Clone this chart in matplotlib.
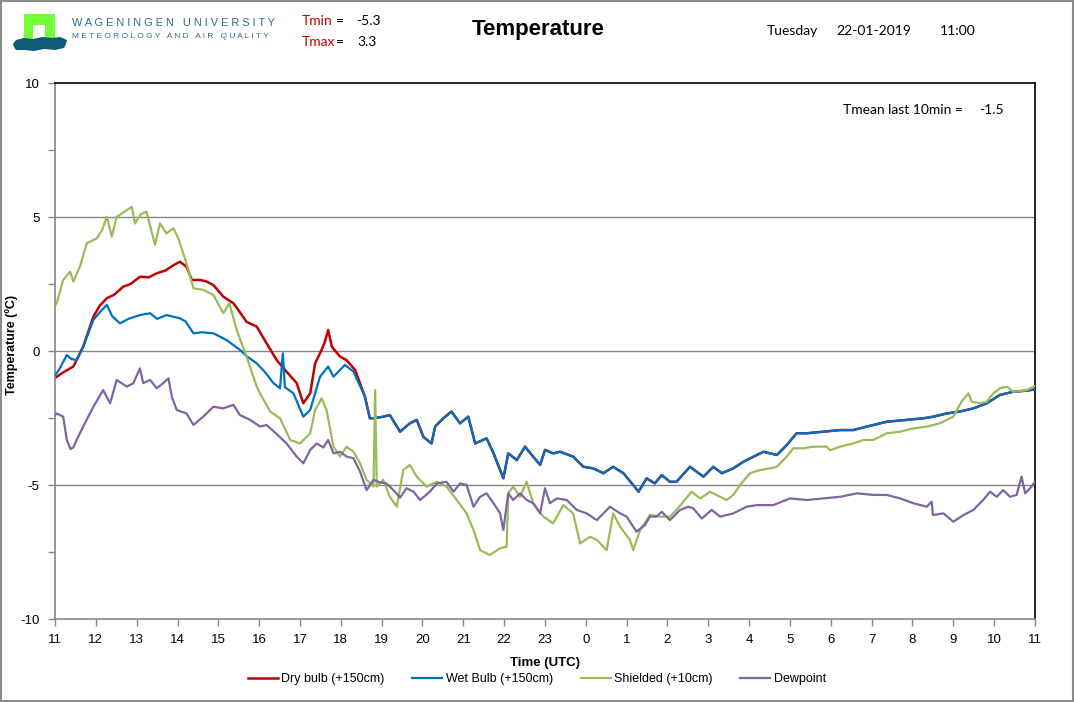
import matplotlib
matplotlib.use("Agg")
import matplotlib.pyplot as plt
from matplotlib.patches import Polygon, Rectangle

# ---------------- data (hours since 11:00 UTC, temperature in degC) ----------------
dry_head_t = [0.0, 0.2, 0.45, 0.69, 0.94, 1.1, 1.27, 1.45, 1.67, 1.85, 2.08, 2.3, 2.49, 2.7, 2.9,
              3.06, 3.22, 3.35, 3.55, 3.7, 3.88, 4.12, 4.37, 4.55, 4.69, 4.94, 5.18, 5.43, 5.67,
              5.92, 6.08, 6.25, 6.37, 6.49, 6.6, 6.69, 6.78, 6.98, 7.14, 7.35, 7.59, 7.71]
dry_head_v = [-1.0, -0.8, -0.58, 0.16, 1.28, 1.7, 1.97, 2.1, 2.4, 2.5, 2.77, 2.75, 2.9, 3.0, 3.2,
              3.33, 3.15, 2.65, 2.65, 2.6, 2.46, 2.03, 1.78, 1.4, 1.09, 0.91, 0.29, -0.34, -0.77,
              -1.2, -1.95, -1.58, -0.46, -0.09, 0.3, 0.78, 0.16, -0.21, -0.34, -0.71, -1.7, -2.51]

wet_head_t = [0.0, 0.1, 0.29, 0.4, 0.53, 0.69, 0.94, 1.1, 1.27, 1.4, 1.59, 1.8, 2.08, 2.33, 2.5,
              2.73, 3.06, 3.2, 3.39, 3.6, 3.88, 4.2, 4.53, 4.7, 4.94, 5.15, 5.35, 5.51, 5.58,
              5.63, 5.84, 6.08, 6.25, 6.49, 6.69, 6.82, 7.1, 7.31, 7.59, 7.71]
wet_head_v = [-0.9, -0.7, -0.15, -0.3, -0.34, 0.16, 1.16, 1.45, 1.72, 1.3, 1.03, 1.2, 1.34, 1.41, 1.2,
              1.34, 1.22, 1.1, 0.66, 0.7, 0.66, 0.41, 0.04, -0.2, -0.46, -0.8, -1.2, -1.39, -0.09,
              -1.35, -1.58, -2.45, -2.2, -0.96, -0.58, -0.96, -0.52, -0.77, -1.7, -2.51]

# after ~18:45 both ventilated sensors coincide
vent_tail_t = [7.8, 8.04, 8.2, 8.45, 8.69, 8.86, 9.02, 9.22, 9.31, 9.51, 9.71, 9.92, 10.12, 10.29,
               10.57, 10.74, 10.98, 11.1, 11.31, 11.51, 11.71, 11.88, 12.0, 12.2, 12.37, 12.69,
               12.94, 13.18, 13.43, 13.67, 13.92, 14.16, 14.29, 14.49, 14.69, 14.86, 15.06, 15.22,
               15.55, 15.88, 16.12, 16.33, 16.61, 16.86, 17.19, 17.35, 17.68, 17.92, 18.16, 18.41,
               18.82, 19.23, 19.55, 19.88, 20.37, 20.86, 21.27, 21.51, 21.84, 22.16, 22.49, 22.82,
               23.14, 23.47, 23.8, 24.0]
vent_tail_v = [-2.51, -2.45, -2.39, -3.01, -2.7, -2.57, -3.2, -3.45, -2.82, -2.51, -2.26, -2.7, -2.45,
               -3.45, -3.26, -3.82, -4.75, -3.82, -4.07, -3.57, -3.94, -4.25, -3.69, -3.82, -3.76,
               -3.94, -4.32, -4.38, -4.56, -4.32, -4.56, -5.0, -5.25, -4.75, -4.94, -4.63, -4.88,
               -4.88, -4.32, -4.69, -4.32, -4.56, -4.38, -4.13, -3.88, -3.76, -3.88, -3.51, -3.07,
               -3.07, -3.01, -2.95, -2.95, -2.82, -2.64, -2.57, -2.51, -2.45, -2.33, -2.26, -2.14,
               -1.95, -1.64, -1.52, -1.48, -1.43]

shield_t = [0.0, 0.04, 0.2, 0.37, 0.45, 0.61, 0.78, 1.02, 1.15, 1.27, 1.39, 1.51, 1.76, 1.88, 1.96,
            2.1, 2.24, 2.45, 2.57, 2.73, 2.9, 3.02, 3.22, 3.39, 3.63, 3.88, 4.12, 4.27, 4.45, 4.69,
            4.94, 5.02, 5.27, 5.51, 5.76, 6.0, 6.25, 6.37, 6.53, 6.65, 6.82, 6.98, 7.14, 7.31, 7.47,
            7.63, 7.8, 7.84, 7.88, 8.04, 8.2, 8.37, 8.53, 8.69, 8.86, 9.1, 9.35, 9.59, 9.84, 10.08,
            10.25, 10.41, 10.65, 10.9, 11.06, 11.1, 11.22, 11.39, 11.55, 11.71, 11.96, 12.2, 12.45,
            12.69, 12.86, 13.1, 13.27, 13.51, 13.67, 13.84, 14.08, 14.16, 14.33, 14.57, 14.82,
            15.06, 15.22, 15.39, 15.59, 15.8, 16.04, 16.29, 16.45, 16.61, 16.78, 17.02, 17.27,
            17.51, 17.68, 17.92, 18.08, 18.33, 18.57, 18.9, 18.98, 19.23, 19.55, 19.8, 20.04,
            20.37, 20.7, 21.02, 21.35, 21.67, 22.0, 22.2, 22.37, 22.45, 22.65, 22.82, 22.98,
            23.14, 23.31, 23.47, 23.8, 24.0]
shield_v = [1.7, 1.78, 2.65, 2.96, 2.59, 3.15, 4.02, 4.2, 4.5, 5.01, 4.27, 5.0, 5.26, 5.38, 4.76,
            5.1, 5.2, 3.96, 4.76, 4.39, 4.58, 4.2, 3.27, 2.34, 2.28, 2.09, 1.41, 1.78, 0.78, -0.21,
            -1.33, -1.58, -2.26, -2.51, -3.32, -3.45, -3.07, -2.2, -1.77, -2.2, -3.57, -3.94, -3.57,
            -3.76, -4.19, -4.81, -5.06, -1.46, -5.06, -4.81, -5.44, -5.81, -4.44, -4.25, -4.69,
            -5.06, -4.88, -5.06, -5.56, -6.06, -6.68, -7.43, -7.61, -7.36, -7.3, -5.31, -5.06,
            -5.44, -4.88, -5.68, -6.18, -6.43, -5.75, -6.06, -7.18, -6.93, -7.05, -7.43, -6.06,
            -6.56, -7.05, -7.43, -6.68, -6.12, -6.18, -6.18, -5.93, -5.62, -5.25, -5.5, -5.25,
            -5.44, -5.56, -5.37, -5.0, -4.56, -4.44, -4.38, -4.32, -3.94, -3.63, -3.63, -3.57,
            -3.57, -3.7, -3.57, -3.45, -3.32, -3.32, -3.07, -3.01, -2.89, -2.82, -2.7, -2.45,
            -1.89, -1.58, -1.89, -1.95, -1.89, -1.58, -1.39, -1.33, -1.52, -1.46, -1.3]

dew_t = [0.0, 0.04, 0.2, 0.29, 0.38, 0.45, 0.53, 0.69, 0.94, 1.18, 1.35, 1.51, 1.76, 1.92, 2.08,
         2.16, 2.33, 2.49, 2.65, 2.78, 2.86, 2.98, 3.22, 3.39, 3.63, 3.88, 4.12, 4.37, 4.53, 4.78,
         5.02, 5.18, 5.43, 5.67, 5.92, 6.08, 6.25, 6.41, 6.57, 6.69, 6.82, 6.98, 7.14, 7.31, 7.47,
         7.63, 7.8, 7.96, 8.12, 8.29, 8.45, 8.61, 8.78, 8.94, 9.18, 9.35, 9.59, 9.76, 9.92, 10.08,
         10.25, 10.41, 10.57, 10.74, 10.9, 10.98, 11.1, 11.22, 11.39, 11.55, 11.71, 11.88, 12.0,
         12.12, 12.29, 12.53, 12.78, 13.02, 13.27, 13.59, 13.84, 14.0, 14.24, 14.45, 14.57, 14.73,
         14.86, 15.06, 15.31, 15.51, 15.63, 15.84, 16.08, 16.29, 16.61, 16.94, 17.19, 17.59, 18.0,
         18.41, 18.82, 19.23, 19.64, 20.04, 20.37, 20.7, 21.02, 21.35, 21.47, 21.5, 21.76, 22.0,
         22.25, 22.49, 22.73, 22.9, 23.06, 23.22, 23.39, 23.55, 23.67, 23.76, 23.88, 24.0]
dew_v = [-2.4, -2.33, -2.45, -3.32, -3.66, -3.6, -3.32, -2.82, -2.08, -1.46, -1.95, -1.08, -1.33, -1.2,
         -0.65, -1.2, -1.08, -1.39, -1.2, -1.02, -1.7, -2.2, -2.33, -2.76, -2.45, -2.08, -2.14, -2.01,
         -2.39, -2.57, -2.82, -2.76, -3.1, -3.45, -3.94, -4.19, -3.69, -3.45, -3.6, -3.32, -3.82,
         -3.76, -3.94, -4.0, -4.5, -5.19, -4.81, -4.9, -4.95, -5.19, -5.47, -5.12, -5.25, -5.56,
         -5.25, -4.94, -4.88, -5.25, -4.94, -5.0, -5.81, -5.44, -5.31, -5.68, -6.06, -6.68, -5.31,
         -5.56, -5.31, -5.56, -5.68, -6.06, -5.12, -5.68, -5.5, -5.56, -5.93, -6.06, -6.31, -5.81,
         -6.06, -6.18, -6.74, -6.49, -6.18, -6.18, -6.0, -6.31, -5.93, -5.81, -5.87, -6.25, -5.93,
         -6.18, -6.06, -5.81, -5.75, -5.75, -5.5, -5.56, -5.5, -5.44, -5.31, -5.37, -5.37, -5.5,
         -5.68, -5.81, -5.62, -6.12, -6.06, -6.37, -6.12, -5.93, -5.56, -5.25, -5.44, -5.19, -5.44,
         -5.37, -4.69, -5.31, -5.12, -4.88]

hour_labels = ["11", "12", "13", "14", "15", "16", "17", "18", "19", "20", "21", "22", "23",
               "0", "1", "2", "3", "4", "5", "6", "7", "8", "9", "10", "11"]
series_names = ["Dry bulb (+150cm)", "Wet Bulb (+150cm)", "Shielded (+10cm)", "Dewpoint"]
series_colors = ["#C00000", "#0070C0", "#9BBB59", "#8064A2"]
t_min, t_max, t_mean10 = "-5.3", "3.3", "-1.5"

dry_t = dry_head_t + vent_tail_t
dry_v = dry_head_v + vent_tail_v
wet_t = wet_head_t + vent_tail_t
wet_v = wet_head_v + vent_tail_v

# ---------------- figure ----------------
W, H = 1074, 702
fig = plt.figure(figsize=(W / 100, H / 100), dpi=100)
fig.patch.set_facecolor("white")

def fx(px):
    return px / W

def fy(py):
    return 1 - py / H

ax = fig.add_axes([fx(55), fy(619), fx(1035) - fx(55), fy(83) - fy(619)])
ax.set_xlim(0, 24)
ax.set_ylim(-10, 10)

for yv in (-5, 0, 5):
    ax.axhline(yv, color="#868686", lw=1.0, zorder=1)

ax.plot(dry_t, dry_v, color=series_colors[0], lw=1.8, zorder=2, label=series_names[0])
ax.plot(wet_t, wet_v, color=series_colors[1], lw=1.6, zorder=3, label=series_names[1])
ax.plot(shield_t, shield_v, color=series_colors[2], lw=1.6, zorder=4, label=series_names[2])
ax.plot(dew_t, dew_v, color=series_colors[3], lw=1.6, zorder=5, label=series_names[3])

ax.set_xticks(range(0, 25))
ax.set_xticklabels(hour_labels)
ax.set_yticks([-10, -7.5, -5, -2.5, 0, 2.5, 5, 7.5, 10])
ax.set_yticklabels(["-10", "", "-5", "", "0", "", "5", "", "10"])
ax.tick_params(axis="both", direction="out", length=5, width=1, color="#868686",
               labelsize=9.5, pad=6)
for lab in ax.get_xticklabels() + ax.get_yticklabels():
    lab.set_fontfamily("Liberation Sans")

ax.spines["left"].set_color("#868686")
ax.spines["bottom"].set_color("#868686")
ax.spines["top"].set_color("black")
ax.spines["right"].set_color("black")
for s in ax.spines.values():
    s.set_linewidth(1.2)

ax.set_xlabel("Time (UTC)", fontsize=9.5, fontweight="bold", family="Liberation Sans",
              labelpad=8)
fig.text(fx(12), fy(345), "Temperature (ºC)", rotation=90, ha="center", va="center",
         fontsize=9, fontweight="bold", family="Liberation Sans")

fig.legend(loc="center", bbox_to_anchor=(fx(537), fy(679)), ncol=4, frameon=False,
           prop={"family": "Liberation Sans", "size": 9}, handlelength=2.4,
           handletextpad=0.3, columnspacing=2.2)

fig.text(fx(963), fy(110), "Tmean last 10min =", ha="right", va="center", fontsize=10,
         family="Lato")
fig.text(fx(979), fy(110), t_mean10, ha="left", va="center", fontsize=10, family="Lato")

# ---------------- header ----------------
fig.text(fx(538), fy(29), "Temperature", ha="center", va="center", fontsize=16,
         fontweight="bold", family="Liberation Sans")
fig.text(fx(767), fy(31), "Tuesday", ha="left", va="center", fontsize=10, family="Lato")
fig.text(fx(836), fy(31), "22-01-2019", ha="left", va="center", fontsize=10, family="Lato")
fig.text(fx(940), fy(31), "11:00", ha="left", va="center", fontsize=10, family="Lato")

fig.text(fx(302), fy(21), "Tmin", ha="left", va="center", fontsize=10, family="Lato",
         color="#C00000")
fig.text(fx(336), fy(21), "=", ha="left", va="center", fontsize=10, family="Lato")
fig.text(fx(356), fy(21), t_min, ha="left", va="center", fontsize=10, family="Lato")
fig.text(fx(302), fy(42), "Tmax", ha="left", va="center", fontsize=10, family="Lato",
         color="#C00000")
fig.text(fx(336), fy(42), "=", ha="left", va="center", fontsize=10, family="Lato")
fig.text(fx(357), fy(42), t_max, ha="left", va="center", fontsize=10, family="Lato")

fig.text(fx(72), fy(23.5), "W A G E N I N G E N   U N I V E R S I T Y", ha="left", va="center",
         fontsize=7.9, family="Liberation Sans", color="#336b8c")
fig.text(fx(72), fy(36), "M E T E O R O L O G Y   A N D   A I R   Q U A L I T Y", ha="left",
         va="center", fontsize=6.0, family="Liberation Sans", color="#336b8c")

# logo
fig.add_artist(Rectangle((fx(24), fy(40)), fx(55) - fx(24), fy(14) - fy(40),
                         transform=fig.transFigure, facecolor="#72FF3A", edgecolor="none"))
fig.add_artist(Rectangle((fx(33), fy(40)), fx(45) - fx(33), fy(25) - fy(40),
                         transform=fig.transFigure, facecolor="white", edgecolor="none"))
wave_px = [(13, 44), (16, 40), (24, 38), (33, 39), (42, 37), (52, 38), (60, 37), (67, 40),
           (66, 44), (64, 48), (55, 50), (44, 49), (34, 51), (24, 50), (16, 50), (14, 47)]
fig.add_artist(Polygon([(fx(a), fy(b)) for a, b in wave_px], closed=True,
                       transform=fig.transFigure, facecolor="#0E5B78", edgecolor="none"))

# outer frame
fig.add_artist(Rectangle((0.001, 0.001), 0.998, 0.998, transform=fig.transFigure,
                         facecolor="none", edgecolor="#8c8c8c", lw=1.5))

fig.savefig("out.png", dpi=100)
